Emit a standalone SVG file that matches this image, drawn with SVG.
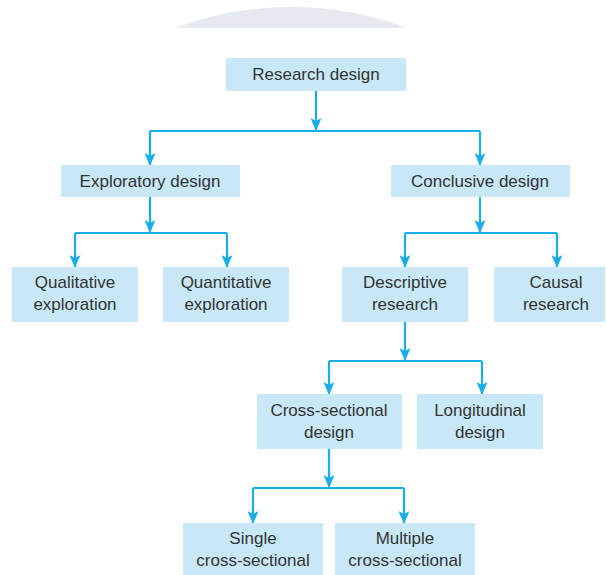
<svg xmlns="http://www.w3.org/2000/svg" width="607" height="575" viewBox="0 0 607 575">
<style>
.box{fill:#c8e8f8}
.t{font-family:"Liberation Sans",Arial,sans-serif;font-size:17px;fill:#333;text-anchor:middle}
.c{stroke:#19aee9;stroke-width:2.2;fill:none}
.a{marker-end:url(#ah)}
</style>
<defs>
<marker id="ah" viewBox="0 0 13 11" refX="12" refY="5.5" markerWidth="13" markerHeight="11" markerUnits="userSpaceOnUse" orient="auto">
<path d="M0,0 L13,5.5 L0,11 L3,5.5 z" fill="#19aee9"/>
</marker>
</defs>
<rect width="607" height="575" fill="#fff"/>
<path d="M175,28 A331 331 0 0 1 407 28 Z" fill="#e6e9f0"/>
<g id="connectors">
<path class="c a" d="M316,91 V130"/>
<path class="c" d="M150,131 H480"/>
<path class="c a" d="M150,131 V165"/>
<path class="c a" d="M480,131 V165"/>
<path class="c a" d="M150,197 V232"/>
<path class="c" d="M75,233 H227"/>
<path class="c a" d="M75,233 V267"/>
<path class="c a" d="M227,233 V267"/>
<path class="c a" d="M480,197 V232"/>
<path class="c" d="M405,233 H557"/>
<path class="c a" d="M405,233 V267"/>
<path class="c a" d="M557,233 V267"/>
<path class="c a" d="M405,322 V360"/>
<path class="c" d="M329,361 H482"/>
<path class="c a" d="M329,361 V394"/>
<path class="c a" d="M482,361 V394"/>
<path class="c a" d="M329,449 V487"/>
<path class="c" d="M253,488 H404"/>
<path class="c a" d="M253,488 V523"/>
<path class="c a" d="M404,488 V523"/>
</g>
<g id="research-design"><rect class="box" x="226" y="58" width="180" height="33"/><text class="t" x="316" y="80">Research design</text></g>
<g id="exploratory-design"><rect class="box" x="61" y="165" width="179" height="32"/><text class="t" x="150" y="187">Exploratory design</text></g>
<g id="conclusive-design"><rect class="box" x="391" y="165" width="179" height="32"/><text class="t" x="480" y="187">Conclusive design</text></g>
<g id="qualitative-exploration"><rect class="box" x="12" y="267" width="126" height="55"/><text class="t" x="75" y="288">Qualitative</text><text class="t" x="75" y="310">exploration</text></g>
<g id="quantitative-exploration"><rect class="box" x="163" y="267" width="126" height="55"/><text class="t" x="226" y="288">Quantitative</text><text class="t" x="226" y="310">exploration</text></g>
<g id="descriptive-research"><rect class="box" x="342" y="267" width="126" height="55"/><text class="t" x="405" y="288">Descriptive</text><text class="t" x="405" y="310">research</text></g>
<g id="causal-research"><rect class="box" x="494" y="267" width="111" height="55"/><text class="t" x="556" y="288">Causal</text><text class="t" x="556" y="310">research</text></g>
<g id="cross-sectional-design"><rect class="box" x="257" y="394" width="145" height="55"/><text class="t" x="329" y="416">Cross-sectional</text><text class="t" x="329" y="438">design</text></g>
<g id="longitudinal-design"><rect class="box" x="417" y="394" width="126" height="55"/><text class="t" x="480" y="416">Longitudinal</text><text class="t" x="480" y="438">design</text></g>
<g id="single-cross-sectional"><rect class="box" x="183" y="523" width="140" height="52"/><text class="t" x="253" y="544">Single</text><text class="t" x="253" y="566">cross-sectional</text></g>
<g id="multiple-cross-sectional"><rect class="box" x="335" y="523" width="140" height="52"/><text class="t" x="405" y="544">Multiple</text><text class="t" x="405" y="566">cross-sectional</text></g>
</svg>
